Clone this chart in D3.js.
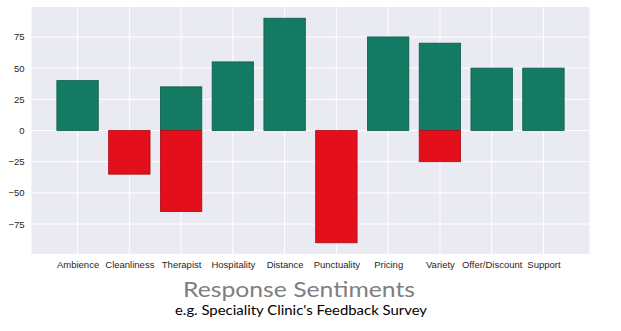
<!DOCTYPE html>
<html><head><meta charset="utf-8">
<script src="https://cdn.jsdelivr.net/npm/d3@7"></script>
<style>body{margin:0;background:#fff}svg{display:block}</style>
</head><body>
<script>
const categories = ["Ambience","Cleanliness","Therapist","Hospitality","Distance","Punctuality","Pricing","Variety","Offer/Discount","Support"];
const positive = [40, 0, 35, 55, 90, 0, 75, 70, 50, 50];
const negative = [0, -35, -65, 0, 0, -90, 0, -25, 0, 0];
const yTicks = [-75, -50, -25, 0, 25, 50, 75];
const title = "Response Sentiments";
const subtitle = "e.g. Speciality Clinic's Feedback Survey";

const W = 621, H = 331;
const m = {left: 31.5, right: 589.5, top: 7, bottom: 254};
const svg = d3.select("body").append("svg").attr("width", W).attr("height", H);

const x = d3.scaleLinear().domain([-0.89, categories.length - 1 + 0.89]).range([m.left, m.right]);
const y = d3.scaleLinear().domain([-99, 99]).range([m.bottom, m.top]);

svg.append("rect").attr("x", m.left).attr("y", m.top)
  .attr("width", m.right - m.left).attr("height", m.bottom - m.top).attr("fill", "#eaeaf2");

const g = svg.append("g");
g.selectAll("line.h").data(yTicks).join("line")
  .attr("x1", m.left).attr("x2", m.right)
  .attr("y1", d => y(d)).attr("y2", d => y(d))
  .attr("stroke", "#fff").attr("stroke-width", 1);
g.selectAll("line.v").data(categories).join("line")
  .attr("x1", (d,i) => x(i)).attr("x2", (d,i) => x(i))
  .attr("y1", m.top).attr("y2", m.bottom)
  .attr("stroke", "#fff").attr("stroke-width", 1);

const bw = x(0.8) - x(0);
function bars(data, fill, stroke) {
  g.selectAll(null).data(data.map((v,i)=>({v,i})).filter(d => d.v !== 0)).join("rect")
    .attr("x", d => x(d.i - 0.4))
    .attr("y", d => y(Math.max(0, d.v)))
    .attr("width", bw)
    .attr("height", d => Math.abs(y(d.v) - y(0)))
    .attr("fill", fill).attr("stroke", stroke).attr("stroke-width", 0.8);
}
bars(positive, "#137a63", "#0d5c4a");
bars(negative, "#e3101c", "#a80c15");

const yAxis = d3.axisLeft(y).tickValues(yTicks).tickSize(0).tickPadding(7)
  .tickFormat(d => d < 0 ? "\u2212" + Math.abs(d) : d);
const ya = svg.append("g").attr("transform", `translate(${m.left},0)`).call(yAxis);
ya.select(".domain").remove();
ya.selectAll("text").attr("fill", "#262626").style("font-family", "Liberation Sans, Arial, sans-serif").style("font-size", "9.5px");

const xa = svg.append("g").attr("transform", `translate(0,${m.bottom})`)
  .call(d3.axisBottom(x).tickValues(d3.range(categories.length)).tickFormat(i => categories[i]).tickSize(0).tickPadding(7));
xa.select(".domain").remove();
xa.selectAll("text").attr("fill", "#262626").style("font-family", "Liberation Sans, Arial, sans-serif").style("font-size", "9.5px");

svg.append("text").attr("x", 299).attr("y", 296.5).attr("text-anchor", "middle")
  .attr("fill", "#7f7f7f").style("font-family", "Lato, sans-serif").style("font-size", "22px")
  .attr("textLength", 232).attr("lengthAdjust", "spacingAndGlyphs").text(title);
svg.append("text").attr("x", 301).attr("y", 315).attr("text-anchor", "middle")
  .attr("fill", "#000").style("font-family", "Lato, sans-serif").style("font-size", "13.5px")
  .attr("textLength", 252).attr("lengthAdjust", "spacingAndGlyphs").text(subtitle);
</script>
</body></html>
